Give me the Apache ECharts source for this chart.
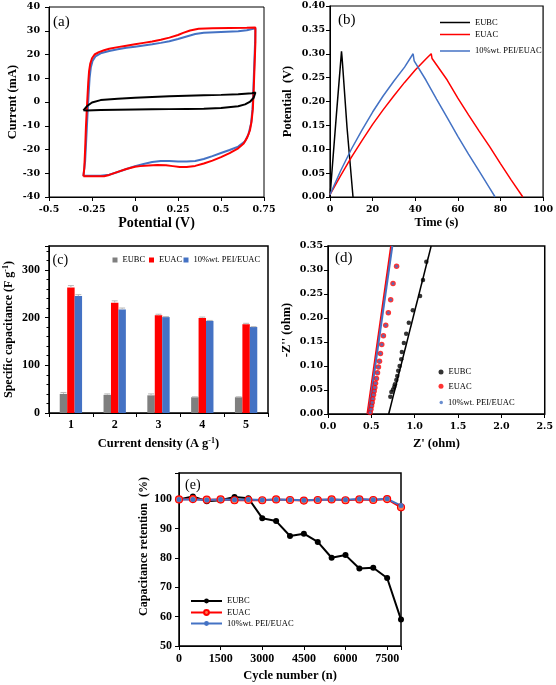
<!DOCTYPE html>
<html><head><meta charset="utf-8">
<script src="https://cdn.jsdelivr.net/npm/echarts@6/dist/echarts.min.js"></script>
<style>html,body{margin:0;padding:0;background:#fff}#c{width:556px;height:685px}</style>
</head><body><div id="c"></div>
<script>
// ---------- (a) CV loops [potential V, current mA] ----------
const cvEUBC = [[-0.30,-3.5],[-0.28,-1.8],[-0.25,-0.2],[-0.2,0.8],[-0.1,1.4],[0,1.8],[0.1,2.1],[0.2,2.4],[0.3,2.6],[0.4,2.8],[0.5,3.0],[0.6,3.3],[0.68,3.7],[0.70,4.0],[0.705,3.5],[0.69,1.8],[0.67,0.2],[0.64,-1.0],[0.6,-1.8],[0.5,-2.5],[0.4,-2.8],[0.3,-2.9],[0.2,-3.0],[0.1,-3.1],[0,-3.2],[-0.1,-3.3],[-0.2,-3.4],[-0.28,-3.6],[-0.30,-3.5]];
const cvEUAC = [[-0.30,-31.3],[-0.295,-28],[-0.29,-20],[-0.285,-10],[-0.278,0],[-0.272,8],[-0.267,13],[-0.26,16.2],[-0.25,18.4],[-0.235,20],[-0.21,21],[-0.18,21.8],[-0.15,22.4],[-0.1,23.1],[-0.05,23.7],[0,24.3],[0.05,24.9],[0.1,25.5],[0.15,26.2],[0.2,27.1],[0.25,28.2],[0.28,29.1],[0.32,30.1],[0.37,30.8],[0.45,31.1],[0.55,31.2],[0.65,31.3],[0.70,31.4],[0.70,25],[0.695,15],[0.69,5],[0.685,-3],[0.678,-8],[0.668,-12],[0.652,-15],[0.632,-17.5],[0.6,-19.5],[0.55,-21.5],[0.5,-23.2],[0.45,-24.7],[0.4,-25.9],[0.35,-26.9],[0.3,-27.4],[0.26,-27.4],[0.22,-27],[0.18,-26.6],[0.13,-26.5],[0.08,-26.7],[0.03,-27],[0,-27.3],[-0.05,-28.2],[-0.1,-29.4],[-0.15,-30.7],[-0.18,-31.3],[-0.30,-31.3]];
const cvPEI = [[-0.30,-31.1],[-0.29,-25],[-0.283,-15],[-0.276,-5],[-0.27,3],[-0.264,10],[-0.257,14.5],[-0.247,17.3],[-0.23,19.2],[-0.2,20.5],[-0.15,21.5],[-0.1,22.2],[-0.05,22.8],[0,23.3],[0.05,23.8],[0.1,24.3],[0.15,24.9],[0.2,25.6],[0.25,26.5],[0.3,27.6],[0.35,28.6],[0.4,29.2],[0.5,29.5],[0.6,29.8],[0.65,30.2],[0.70,31.0],[0.698,25],[0.693,15],[0.688,5],[0.683,-3],[0.675,-9],[0.66,-13.5],[0.64,-16.5],[0.6,-18.8],[0.55,-20.2],[0.5,-21.5],[0.45,-22.8],[0.4,-24],[0.35,-24.8],[0.3,-25.1],[0.25,-25.1],[0.2,-24.8],[0.15,-24.8],[0.1,-25.3],[0.05,-26.1],[0,-27],[-0.05,-28.2],[-0.1,-29.5],[-0.15,-30.6],[-0.2,-31.1],[-0.30,-31.1]];

// ---------- (b) GCD [time s, potential V] ----------
const gcdEUBC = [[0,0.0],[1,0.058],[3,0.172],[5.4,0.305],[5.7,0.29],[8,0.145],[10.8,0.0]];
const gcdEUAC = [[0,0.005],[5,0.045],[10,0.083],[15,0.118],[20,0.152],[25,0.183],[30,0.212],[35,0.24],[40,0.266],[45,0.289],[47.5,0.30],[47.9,0.29],[55,0.245],[60,0.207],[65,0.172],[70,0.138],[75,0.105],[80,0.07],[85,0.036],[90.5,0.0]];
const gcdPEI = [[0,0.005],[5,0.055],[10,0.1],[15,0.14],[20,0.178],[25,0.212],[30,0.243],[35,0.272],[39,0.30],[39.5,0.285],[45,0.245],[50,0.205],[55,0.166],[60,0.127],[65,0.09],[70,0.054],[75,0.018],[77.5,0.0]];

// ---------- (c) specific capacitance ----------
const currentDensity = ['1','2','3','4','5'];
const capEUBC = [40, 38, 37, 33, 33];
const capEUAC = [263, 231, 205, 199, 186];
const capPEI  = [245, 217, 201, 193, 180];
const errEUBC = [3, 2, 3, 1, 1];
const errEUAC = [4, 4, 2, 2, 2];
const errPEI  = [3, 3, 1, 1, 1];

// ---------- (d) Nyquist [Z' ohm, -Z'' ohm] ----------
const nyqEUBC = [[0.719,0.036],[0.731,0.046],[0.75,0.051],[0.765,0.057],[0.772,0.062],[0.788,0.071],[0.799,0.079],[0.81,0.09],[0.826,0.10],[0.845,0.114],[0.852,0.129],[0.875,0.148],[0.902,0.167],[0.932,0.19],[0.978,0.216],[1.062,0.246],[1.096,0.279],[1.134,0.317]];
const nyqEUAC = [[0.487,0.003],[0.495,0.01],[0.502,0.017],[0.51,0.024],[0.517,0.032],[0.525,0.04],[0.533,0.048],[0.54,0.055],[0.548,0.064],[0.559,0.074],[0.571,0.086],[0.582,0.098],[0.594,0.11],[0.605,0.126],[0.62,0.145],[0.639,0.163],[0.666,0.185],[0.696,0.211],[0.723,0.238],[0.75,0.272],[0.791,0.308]];
const nyqPEI = [[0.487,0.003],[0.495,0.01],[0.502,0.017],[0.51,0.024],[0.517,0.032],[0.525,0.04],[0.533,0.048],[0.54,0.055],[0.548,0.064],[0.559,0.074],[0.571,0.086],[0.582,0.098],[0.594,0.11],[0.605,0.126],[0.62,0.145],[0.639,0.163],[0.666,0.185],[0.696,0.211],[0.723,0.238],[0.75,0.272],[0.791,0.308]];
const fitEUBC = [[0.70,0],[1.19,0.35]];
const fitEUAC = [[0.455,0],[0.728,0.35]];
const fitPEI  = [[0.466,0],[0.742,0.35]];

// ---------- (e) cycling ----------
const cycles = [0,500,1000,1500,2000,2500,3000,3500,4000,4500,5000,5500,6000,6500,7000,7500,8000];
const retEUBC = [100,101,99.4,99.7,100.8,100.4,93.6,92.6,87.5,88.3,85.5,80.1,81.0,76.4,76.7,73.2,59.0];
const retEUAC = [100,100.1,99.9,100,99.7,99.8,99.7,100,99.8,99.6,99.8,100,99.7,100,99.8,100.1,97.3];
const retPEI  = [100,100,99.8,100,99.9,100,99.8,100,99.9,99.7,99.9,100,99.9,100.1,99.9,100.2,97.9];

const SERIF = "'Liberation Serif', 'Times New Roman', serif";
const WIDE = "'DejaVu Serif', serif";
const RED = '#ff0000', BLUE = '#4472c4', BLACK = '#000000', GRAY = '#7f7f7f';

function valAxis(gi, o) {
  return Object.assign({
    type: 'value', gridIndex: gi,
    axisLine: {show: true, onZero: false, lineStyle: {color: '#000', width: 1}},
    axisTick: {show: true, inside: false, length: 4, lineStyle: {color: '#000'}},
    splitLine: {show: false},
    axisLabel: {color: '#000', fontFamily: WIDE, fontWeight: 'bold', fontSize: 9.5, margin: 8},
    nameLocation: 'middle',
    nameTextStyle: {color: '#000', fontFamily: SERIF, fontWeight: 'bold', fontSize: 12.5}
  }, o);
}
const supRich = {s: {fontSize: 8, fontFamily: SERIF, fontWeight: 'bold', color: '#000', verticalAlign: 'top', lineHeight: 10}};

const xAxes = [
  valAxis(0, {min: -0.5, max: 0.75, interval: 0.25, name: 'Potential (V)', nameGap: 18,
    nameTextStyle: {color: '#000', fontFamily: SERIF, fontWeight: 'bold', fontSize: 14}}),
  valAxis(1, {min: 0, max: 100, interval: 20, name: 'Time (s)', nameGap: 18}),
  {type: 'category', gridIndex: 2, data: currentDensity,
    axisLine: {show: true, lineStyle: {color: '#000'}},
    axisTick: {show: true, length: 4, lineStyle: {color: '#000'}},
    axisLabel: {color: '#000', fontFamily: SERIF, fontWeight: 'bold', fontSize: 12, margin: 6},
    name: 'Current density (A g{s|-1})', nameLocation: 'middle', nameGap: 24,
    nameTextStyle: {color: '#000', fontFamily: SERIF, fontWeight: 'bold', fontSize: 12.5, lineHeight: 14, rich: supRich}},
  valAxis(3, {min: 0, max: 2.5, interval: 0.5, name: "Z' (ohm)", nameGap: 23,
    axisLabel: {color: '#000', fontFamily: WIDE, fontWeight: 'bold', fontSize: 9.5, margin: 8, formatter: v => v.toFixed(1)}}),
  valAxis(4, {min: 0, max: 8000, interval: 1500, name: 'Cycle number (n)', nameGap: 23,
    axisLabel: {color: '#000', fontFamily: SERIF, fontWeight: 'bold', fontSize: 12, margin: 7, formatter: v => (v % 1500 === 0 ? String(v) : '')}})
];
const yAxes = [
  valAxis(0, {min: -40, max: 40, interval: 10, name: 'Current (mA)', nameGap: 30, axisLabel: {color: '#000', fontFamily: WIDE, fontWeight: 'bold', fontSize: 9.5, margin: 9}}),
  valAxis(1, {min: 0, max: 0.4, interval: 0.05, name: 'Potential  (V)', nameGap: 36,
    axisLabel: {color: '#000', fontFamily: WIDE, fontWeight: 'bold', fontSize: 9.5, margin: 5, formatter: v => v.toFixed(2)}}),
  valAxis(2, {min: 0, max: 350, interval: 100, name: 'Specific capacitance (F g{s|-1})', nameGap: 33,
    minorTick: {show: true, splitNumber: 5, length: 2.5, lineStyle: {color: '#000'}},
    axisLabel: {color: '#000', fontFamily: SERIF, fontWeight: 'bold', fontSize: 12, margin: 9, formatter: v => (v % 100 === 0 ? String(v) : '')},
    nameTextStyle: {color: '#000', fontFamily: SERIF, fontWeight: 'bold', fontSize: 12, lineHeight: 14, rich: supRich}}),
  valAxis(3, {min: 0, max: 0.35, interval: 0.05, name: "-Z'' (ohm)", nameGap: 35,
    axisLabel: {color: '#000', fontFamily: WIDE, fontWeight: 'bold', fontSize: 9.5, margin: 5, formatter: v => v.toFixed(2)}}),
  valAxis(4, {min: 50, max: 109, interval: 10, name: 'Capacitance retention  (%)', nameGap: 29,
    axisLabel: {color: '#000', fontFamily: SERIF, fontWeight: 'bold', fontSize: 12, margin: 7, formatter: v => (v % 10 === 0 ? String(v) : '')},
    nameTextStyle: {color: '#000', fontFamily: SERIF, fontWeight: 'bold', fontSize: 12, padding: [0, 0, 0, 26]}})
];

function errRender(k) {
  return function (params, api) {
    const i = api.value(0), v = api.value(1), e = api.value(2);
    const top = api.coord([i, v + e]);
    const mid = api.coord([i, v]);
    const cw = api.size([1, 0])[0];
    const bw = cw * 0.51 / 3;
    const cx = top[0] + (k - 1) * bw;
    const hw = bw * 0.4;
    return {type: 'group', children: [
      {type: 'line', shape: {x1: cx, y1: mid[1], x2: cx, y2: top[1]}, style: {stroke: '#b8b8b8', lineWidth: 1}},
      {type: 'line', shape: {x1: cx - hw, y1: top[1], x2: cx + hw, y2: top[1]}, style: {stroke: '#b8b8b8', lineWidth: 1}}
    ]};
  };
}

function lineS(name, xi, data, color, w) {
  return {name, type: 'line', xAxisIndex: xi, yAxisIndex: xi, data, showSymbol: false, symbol: 'none',
    lineStyle: {color, width: w}, itemStyle: {color}, silent: true};
}
const series = [
  lineS('a:PEI', 0, cvPEI, BLUE, 2),
  lineS('a:EUAC', 0, cvEUAC, RED, 2),
  lineS('a:EUBC', 0, cvEUBC, BLACK, 2),
  lineS('b:EUBC', 1, gcdEUBC, BLACK, 1.5),
  lineS('b:EUAC', 1, gcdEUAC, RED, 1.5),
  lineS('b:10%wt. PEI/EUAC', 1, gcdPEI, BLUE, 1.5),
  {name: 'c:EUBC', type: 'bar', xAxisIndex: 2, yAxisIndex: 2, data: capEUBC, itemStyle: {color: GRAY}, barGap: '0%', barCategoryGap: '49%'},
  {name: 'c:EUAC', type: 'bar', xAxisIndex: 2, yAxisIndex: 2, data: capEUAC, itemStyle: {color: RED}, barGap: '0%', barCategoryGap: '49%'},
  {name: 'c:10%wt. PEI/EUAC', type: 'bar', xAxisIndex: 2, yAxisIndex: 2, data: capPEI, itemStyle: {color: BLUE}, barGap: '0%', barCategoryGap: '49%'},
  {type: 'custom', xAxisIndex: 2, yAxisIndex: 2, renderItem: errRender(0), data: capEUBC.map((v, i) => [i, v, errEUBC[i]]), z: 5, encode: {x: 0, y: 1}},
  {type: 'custom', xAxisIndex: 2, yAxisIndex: 2, renderItem: errRender(1), data: capEUAC.map((v, i) => [i, v, errEUAC[i]]), z: 5, encode: {x: 0, y: 1}},
  {type: 'custom', xAxisIndex: 2, yAxisIndex: 2, renderItem: errRender(2), data: capPEI.map((v, i) => [i, v, errPEI[i]]), z: 5, encode: {x: 0, y: 1}},
  lineS('d:fitEUAC', 3, fitEUAC, RED, 2),
  lineS('d:fitPEI', 3, fitPEI, BLUE, 2),
  lineS('d:fitEUBC', 3, fitEUBC, BLACK, 1.5),
  {name: 'd:EUAC', type: 'scatter', xAxisIndex: 3, yAxisIndex: 3, data: nyqEUAC, symbolSize: 5.5, itemStyle: {color: RED}, z: 3},
  {name: 'd:10%wt. PEI/EUAC', type: 'scatter', xAxisIndex: 3, yAxisIndex: 3, data: nyqPEI, symbolSize: 3, itemStyle: {color: BLUE}, z: 4},
  {name: 'd:EUBC', type: 'scatter', xAxisIndex: 3, yAxisIndex: 3, data: nyqEUBC, symbolSize: 4.5, itemStyle: {color: BLACK}, z: 3},
  {name: 'e:EUBC', type: 'line', xAxisIndex: 4, yAxisIndex: 4, data: cycles.map((c, i) => [c, retEUBC[i]]),
    symbol: 'circle', symbolSize: 6, lineStyle: {color: BLACK, width: 2}, itemStyle: {color: BLACK}},
  {name: 'e:EUAC', type: 'line', xAxisIndex: 4, yAxisIndex: 4, data: cycles.map((c, i) => [c, retEUAC[i]]),
    symbol: 'circle', symbolSize: 7, lineStyle: {color: RED, width: 2}, itemStyle: {color: '#ff7a50', borderColor: RED, borderWidth: 1.2}},
  {name: 'e:10%wt. PEI/EUAC', type: 'line', xAxisIndex: 4, yAxisIndex: 4, data: cycles.map((c, i) => [c, retPEI[i]]),
    symbol: 'circle', symbolSize: 5, lineStyle: {color: BLUE, width: 2}, itemStyle: {color: BLUE}}
];

function leg(name, left, top, o) {
  return Object.assign({
    data: [name], left, top, orient: 'vertical', padding: 0, itemGap: 0,
    selectedMode: false, itemTextGap: 2,
    formatter: n => n.slice(2),
    textStyle: {color: '#000', fontFamily: SERIF, fontSize: 8.5}
  }, o);
}
const cLegText = {color: '#000', fontFamily: SERIF, fontSize: 8.5};
const legends = [
  leg('b:EUBC', 440, 18, {icon: 'rect', itemWidth: 30, itemHeight: 1.5}),
  leg('b:EUAC', 440, 30, {icon: 'rect', itemWidth: 30, itemHeight: 1.5}),
  leg('b:10%wt. PEI/EUAC', 440, 46.5, {icon: 'rect', itemWidth: 30, itemHeight: 1.5}),
  leg('c:EUBC', 112.5, 255.5, {icon: 'rect', itemWidth: 5, itemHeight: 5, itemTextGap: 1, textStyle: cLegText}),
  leg('c:EUAC', 149, 255.5, {icon: 'rect', itemWidth: 5, itemHeight: 5, itemTextGap: 1, textStyle: cLegText}),
  leg('c:10%wt. PEI/EUAC', 183.5, 255.5, {icon: 'rect', itemWidth: 5, itemHeight: 5, itemTextGap: 1, textStyle: cLegText}),
  leg('d:EUBC', 438.5, 367.5, {icon: 'circle', itemWidth: 5, itemHeight: 5, itemTextGap: 1}),
  leg('d:EUAC', 438.5, 381.8, {icon: 'circle', itemWidth: 5, itemHeight: 5, itemTextGap: 1}),
  leg('d:10%wt. PEI/EUAC', 439.5, 398, {icon: 'circle', itemWidth: 3.5, itemHeight: 3.5, itemTextGap: 2}),
  leg('e:EUBC', 190, 596.5, {itemWidth: 31, itemHeight: 6, itemTextGap: 1}),
  leg('e:EUAC', 190, 608, {itemWidth: 31, itemHeight: 6, itemTextGap: 1}),
  leg('e:10%wt. PEI/EUAC', 190, 619, {itemWidth: 31, itemHeight: 6, itemTextGap: 1})
];

function plabel(t, x, y, fs) {
  return {type: 'text', x, y, silent: true,
    style: {text: t, fill: '#000', fontFamily: SERIF, fontSize: fs, verticalAlign: 'middle', align: 'left'}};
}

const option = {
  animation: false,
  backgroundColor: '#ffffff',
  grid: [
    {left: 49, top: 7, width: 215, height: 190, show: true, borderColor: '#000', borderWidth: 1, backgroundColor: 'transparent'},
    {left: 330, top: 6, width: 215, height: 191, show: true, borderColor: '#000', borderWidth: 1.2, backgroundColor: 'transparent'},
    {left: 49, top: 246, width: 219, height: 167, show: true, borderColor: '#000', borderWidth: 1.5, backgroundColor: 'transparent'},
    {left: 328, top: 246, width: 217, height: 168, show: true, borderColor: '#000', borderWidth: 1.5, backgroundColor: 'transparent'},
    {left: 179, top: 473, width: 222, height: 173, show: true, borderColor: '#000', borderWidth: 1.5, backgroundColor: 'transparent'}
  ],
  xAxis: xAxes,
  yAxis: yAxes,
  legend: legends,
  series,
  graphic: [
    plabel('(a)', 53, 22, 15),
    plabel('(b)', 338, 20, 15),
    plabel('(c)', 52.5, 260, 14),
    plabel('(d)', 335, 258, 15),
    plabel('(e)', 185, 485, 14)
  ]
};
const chart = echarts.init(document.getElementById('c'), null, {renderer: 'canvas'});
chart.setOption(option);
</script>
</body></html>
